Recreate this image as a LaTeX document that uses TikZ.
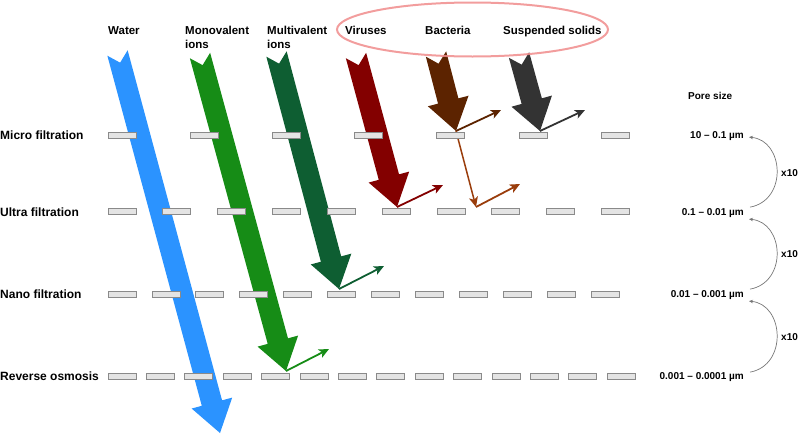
\documentclass[tikz,border=0pt]{standalone}
\usepackage{fontspec}
\setmainfont{Liberation Sans}
\usetikzlibrary{calc,arrows.meta,shapes.geometric}

\definecolor{cwater}{HTML}{2B93FF}
\definecolor{cmono}{HTML}{168C16}
\definecolor{cmulti}{HTML}{0E5E32}
\definecolor{cvirus}{HTML}{830000}
\definecolor{cbact}{HTML}{5C2300}
\definecolor{cbactl}{HTML}{9A3D0C}
\definecolor{csolid}{HTML}{333333}
\definecolor{cring}{HTML}{F08C8C}
\definecolor{membfill}{HTML}{E4E4E4}
\definecolor{membdraw}{HTML}{8A8A8A}
\definecolor{cfactor}{HTML}{777777}

\newcommand\flexarrow[3]{%
  \coordinate (faN) at ($(#2)!10pt!(#3)$);
  \coordinate (faH) at ($(#3)!31pt!(#2)$);
  \fill[#1] ($(#2)!10.5pt!90:(#3)$) -- (faN) -- ($(#2)!10.5pt!-90:(#3)$)
    -- ($(faH)!10.5pt!-90:(#3)$) -- ($(faH)!21pt!-90:(#3)$) -- (#3)
    -- ($(faH)!21pt!90:(#3)$) -- ($(faH)!10.5pt!90:(#3)$) -- cycle;}

\begin{document}
\begin{tikzpicture}[x=1pt,y=-1pt,
  rowlab/.style={font=\fontsize{12}{14}\selectfont\bfseries, inner sep=0, anchor=base west},
  colhead/.style={font=\fontsize{11.5}{14}\selectfont\bfseries, inner sep=0},
  porelab/.style={font=\fontsize{10}{12}\selectfont\bfseries, inner sep=0, anchor=base east},
  memb/.style={rectangle, draw=membdraw, fill=membfill, line width=0.8pt, minimum width=28pt, minimum height=6pt, inner sep=0},
  defl/.style={line width=1.8pt, -{Stealth[length=10pt,width=9pt,inset=2.5pt]}},
  factorarrow/.style={draw=cfactor, line width=0.7pt, -{Stealth[length=4pt,width=3.5pt]}}]
\useasboundingbox (0,0) rectangle (798,434);

% column headers
\node[colhead, anchor=base west] (water) at (108,34.1) {Water};
\node[colhead, anchor=north west, align=left] (mono) at (185,25.7) {Monovalent\\ions};
\node[colhead, anchor=north west, align=left] (multi) at (267,25.7) {Multivalent\\ions};
\node[colhead, anchor=base west] (virus) at (345,34.1) {Viruses};
\node[colhead, anchor=base west] (bact) at (425,34.1) {Bacteria};
\node[colhead, anchor=base west] (solid) at (503,34.1) {Suspended solids};

% row labels
\node[rowlab] (micro) at (0,139.3) {Micro filtration};
\node[rowlab] (ultra) at (0,216.3) {Ultra filtration};
\node[rowlab] (nano) at (0,298.3) {Nano filtration};
\node[rowlab] (ro) at (0,380.3) {Reverse osmosis};

% pore sizes
\node[colhead, anchor=base west, font=\fontsize{10}{12}\selectfont\bfseries] (pore) at (688,99.6) {Pore size};
\node[porelab] (p1) at (744,138.6) {10 -- 0.1 µm};
\node[porelab] (p2) at (744,215.6) {0.1 -- 0.01 µm};
\node[porelab] (p3) at (744,297.6) {0.01 -- 0.001 µm};
\node[porelab] (p4) at (744,379.6) {0.001 -- 0.0001 µm};
\node[porelab, anchor=base west] (x1) at (781,176.6) {x10};
\node[porelab, anchor=base west] (x2) at (781,257.6) {x10};
\node[porelab, anchor=base west] (x3) at (781,340.6) {x10};

\draw[factorarrow] ($(p2.east)+(6,-6)$) .. controls +(38,-7) and +(35,3) .. ($(p1.east)+(5,1)$);
\draw[factorarrow] ($(p3.east)+(6,-6)$) .. controls +(38,-7) and +(35,3) .. ($(p2.east)+(5,6)$);
\draw[factorarrow] ($(p4.east)+(6,-5)$) .. controls +(38,-7) and +(35,3) .. ($(p3.east)+(5,6)$);

% big arrows
\coordinate (tw) at (117.5,53);  \coordinate (hw) at (220,433);
\coordinate (tm) at (200,55.5);  \coordinate (hm) at (286,371);
\coordinate (tu) at (276.5,54);  \coordinate (hu) at (339,289);
\coordinate (tv) at (356,55.5);  \coordinate (hv) at (397,207);
\coordinate (tb) at (436,54);    \coordinate (hb) at (456,131);
\coordinate (ts) at (519,55);    \coordinate (hs) at (540,131);
\flexarrow{cwater}{tw}{hw}
\flexarrow{cmono}{tm}{hm}
\flexarrow{cmulti}{tu}{hu}
\flexarrow{cvirus}{tv}{hv}
\flexarrow{cbact}{tb}{hb}
\flexarrow{csolid}{ts}{hs}

% deflections
\coordinate (em) at (329,349);
\coordinate (eu) at (384,266);
\coordinate (ev) at (443,185);
\coordinate (eb) at (501,110);
\coordinate (bd) at (476,207);
\coordinate (eb2) at (520,184);
\coordinate (es) at (585,110);
\draw[defl, cmono] (hm) -- (em);
\draw[defl, cmulti] (hu) -- (eu);
\draw[defl, cvirus] (hv) -- (ev);
\draw[defl, cbact] (hb) -- (eb);
\draw[defl, cbactl, line width=1.5pt] (hb) -- (bd);
\draw[defl, cbactl] (bd) -- (eb2);
\draw[defl, csolid] (hs) -- (es);

% membranes
\foreach \i in {0,...,6} \node[memb] (mf\i) at ({122+82.2*\i},135) {};
\foreach \i in {0,...,9} \node[memb] (uf\i) at ({122+54.83*\i},211.5) {};
\foreach \i in {0,...,11} \node[memb] (nf\i) at ({122+43.9*\i},294) {};
\foreach \i in {0,...,13} \node[memb] (rf\i) at ({122+38.4*\i},376) {};

% highlight ring
\node[ellipse, draw=cring, draw opacity=0.85, line width=2pt, minimum width=271pt, minimum height=54pt, inner sep=0] (ring) at (472.5,29.5) {};
\end{tikzpicture}
\end{document}
